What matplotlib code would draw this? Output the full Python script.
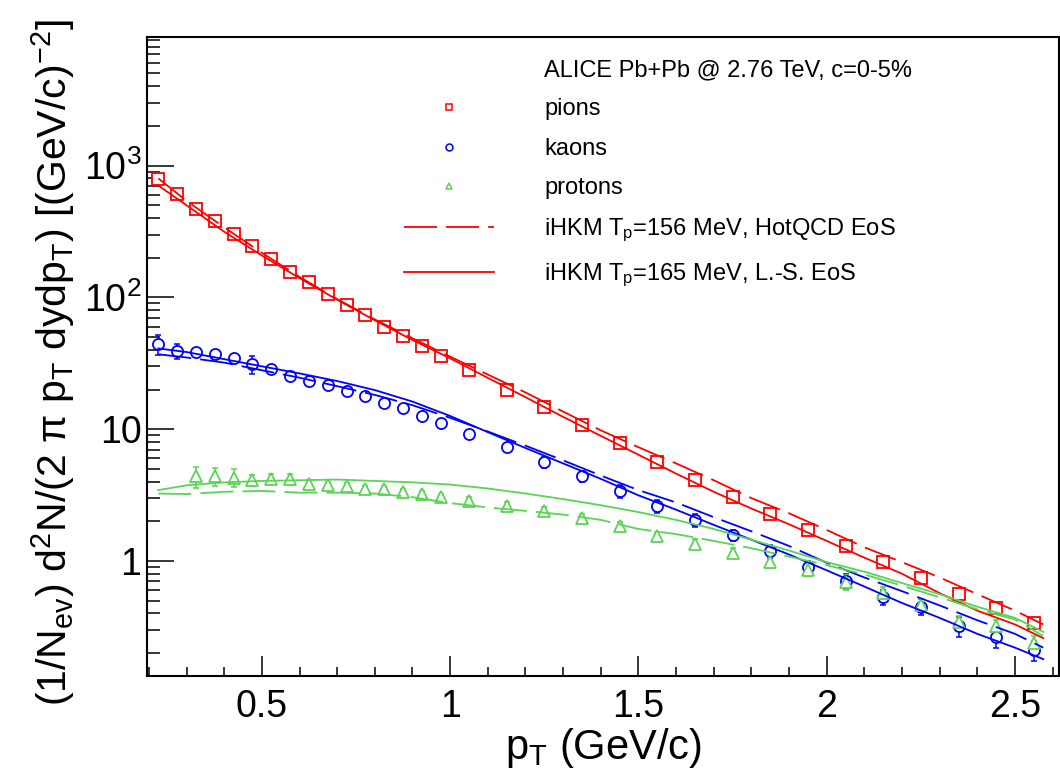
import numpy as np
import matplotlib
matplotlib.use('Agg')
import matplotlib.pyplot as plt
from matplotlib.lines import Line2D
from matplotlib.ticker import FixedLocator, FixedFormatter, MultipleLocator, LogLocator, NullFormatter

plt.rcParams['font.family'] = ['Liberation Sans', 'DejaVu Sans']
plt.rcParams['mathtext.fontset'] = 'custom'
plt.rcParams['mathtext.rm'] = 'Liberation Sans'
plt.rcParams['mathtext.it'] = 'Liberation Sans:italic'
plt.rcParams['mathtext.bf'] = 'Liberation Sans:bold'
plt.rcParams['lines.scale_dashes'] = False

# ALICE data
pt_pi = [0.225, 0.275, 0.325, 0.375, 0.425, 0.475, 0.525, 0.575, 0.625, 0.675, 0.725, 0.775,
         0.825, 0.875, 0.925, 0.975, 1.05, 1.15, 1.25, 1.35, 1.45, 1.55, 1.65, 1.75, 1.85,
         1.95, 2.05, 2.15, 2.25, 2.35, 2.45, 2.55]
pi_y = [795, 612, 470, 377, 305, 244, 194, 157, 130, 107, 88, 73, 60, 51, 43, 36, 28, 20,
        14.7, 10.7, 7.8, 5.6, 4.1, 3.06, 2.27, 1.72, 1.30, 0.98, 0.74, 0.56, 0.44, 0.34]
pi_err = [0.04] * 32

pt_ka = pt_pi
ka_y = [44, 39, 38.3, 37, 34.5, 31, 28.5, 25.2, 23.1, 21.5, 19.6, 18.0, 15.7, 14.4, 12.5, 11.1,
        9.15, 7.3, 5.6, 4.4, 3.4, 2.6, 2.04, 1.57, 1.19, 0.90, 0.70, 0.53, 0.45, 0.32, 0.265, 0.21]
ka_err = [0.17, 0.13, 0.06, 0.06, 0.08, 0.15, 0.06, 0.06, 0.06, 0.06, 0.06, 0.06, 0.06, 0.06,
          0.06, 0.06, 0.07, 0.08, 0.09, 0.10, 0.11, 0.11, 0.11, 0.10, 0.12, 0.11, 0.13, 0.13,
          0.14, 0.17, 0.17, 0.17]

pt_pr = [0.325, 0.375, 0.425, 0.475, 0.525, 0.575, 0.625, 0.675, 0.725, 0.775, 0.825, 0.875,
         0.925, 0.975, 1.05, 1.15, 1.25, 1.35, 1.45, 1.55, 1.65, 1.75, 1.85, 1.95, 2.05, 2.15,
         2.25, 2.35, 2.45, 2.55]
pr_y = [4.4, 4.4, 4.3, 4.1, 4.17, 4.17, 3.83, 3.77, 3.70, 3.51, 3.51, 3.33, 3.22, 3.05,
        2.85, 2.61, 2.39, 2.12, 1.84, 1.55, 1.35, 1.15, 0.98, 0.86, 0.69, 0.57, 0.46, 0.345, 0.32, 0.24]
pr_err = [0.18, 0.16, 0.16, 0.10, 0.10, 0.10, 0.08, 0.06, 0.06, 0.06, 0.06, 0.06, 0.06, 0.06,
          0.07, 0.07, 0.07, 0.08, 0.08, 0.08, 0.08, 0.09, 0.09, 0.10, 0.13, 0.11, 0.11, 0.11, 0.11, 0.13]

# iHKM curves
pt_model = [0.225, 0.3, 0.4, 0.5, 0.6, 0.7, 0.8, 0.9, 1.0, 1.1, 1.2, 1.3, 1.4, 1.5, 1.6, 1.7,
            1.8, 1.9, 2.0, 2.1, 2.2, 2.3, 2.4, 2.5, 2.575]
pi_ls = [706, 500, 315, 208, 140, 96, 67, 47.5, 34.5, 24.5, 17.5, 12.4, 8.9, 6.4, 4.6, 3.35,
         2.5, 1.9, 1.42, 1.06, 0.8, 0.57, 0.42, 0.33, 0.26]
pi_hq = [800, 540, 340, 218, 143, 97, 68, 49, 35.5, 26, 19, 13.6, 9.8, 7.3, 5.5, 4.1,
         3.0, 2.3, 1.72, 1.27, 0.98, 0.75, 0.56, 0.42, 0.33]
ka_ls = [41, 38.5, 34, 30, 26.5, 23.2, 19.8, 16.2, 12.6, 9.5, 7.2, 5.5, 4.2, 3.15, 2.45, 1.88,
         1.45, 1.12, 0.85, 0.64, 0.48, 0.37, 0.28, 0.22, 0.18]
ka_hq = [37, 35, 32, 28, 24.6, 21.2, 18.2, 15.2, 12.2, 9.6, 7.5, 5.8, 4.45, 3.45, 2.78, 2.15,
         1.68, 1.3, 0.97, 0.75, 0.59, 0.46, 0.355, 0.28, 0.22]
pr_ls = [3.45, 3.75, 3.95, 4.05, 4.1, 4.15, 4.05, 3.95, 3.8, 3.55, 3.25, 2.95, 2.65, 2.35, 2.05,
         1.75, 1.45, 1.2, 0.98, 0.83, 0.68, 0.56, 0.45, 0.37, 0.29]
pr_hq = [3.25, 3.22, 3.35, 3.4, 3.3, 3.3, 3.25, 3.05, 2.75, 2.55, 2.4, 2.25, 2.05, 1.75, 1.6,
         1.42, 1.25, 1.08, 0.93, 0.79, 0.65, 0.53, 0.43, 0.36, 0.27]

xtick_vals = [0.5, 1, 1.5, 2, 2.5]
xtick_labels = ['0.5', '1', '1.5', '2', '2.5']
ytick_vals = [1, 10, 100, 1000]
ytick_labels = ['1', '10', '$10^{2}$', '$10^{3}$']

red = '#ff0000'
blue = '#0000ff'
green = '#59d454'
dash = (23.8, 6.5)

fig = plt.figure(figsize=(10.6, 7.82), dpi=100)
ax = fig.add_axes([0.1387, 0.1355, 0.8604, 0.8172])

for ys_ls, ys_hq, c in [(pi_ls, pi_hq, red), (ka_ls, ka_hq, blue), (pr_ls, pr_hq, green)]:
    ax.plot(pt_model, ys_ls, color=c, lw=1.3, zorder=3)
    ax.plot(pt_model, ys_hq, color=c, lw=1.3, dashes=dash, zorder=3)

# error bars first, then white-filled markers hide the part inside the marker (as ROOT does)
for x, y, e, m, c in [(pt_pi, pi_y, pi_err, 's', red), (pt_ka, ka_y, ka_err, 'o', blue),
                      (pt_pr, pr_y, pr_err, '^', green)]:
    y = np.array(y)
    ax.errorbar(x, y, yerr=y * np.array(e), fmt='none', ecolor=c, elinewidth=1.1,
                capsize=2.5, capthick=1.1, zorder=2)
    ax.plot(x, y, ls='none', marker=m, mfc='white', mec=c, ms=8, mew=1.3, zorder=2.5)

ax.set_yscale('log')
ax.set_xlim(0.195, 2.617)
ax.set_ylim(0.134, 9460)

ax.xaxis.set_major_locator(FixedLocator(xtick_vals))
ax.xaxis.set_major_formatter(FixedFormatter(xtick_labels))
ax.xaxis.set_minor_locator(MultipleLocator(0.1))
ax.yaxis.set_major_locator(FixedLocator(ytick_vals))
ax.yaxis.set_major_formatter(FixedFormatter(ytick_labels))
ax.yaxis.set_minor_locator(LogLocator(base=10, subs=range(2, 10)))
ax.yaxis.set_minor_formatter(NullFormatter())

ax.tick_params(axis='y', which='major', direction='in', length=19.4, width=1.1, labelsize=27, pad=4)
ax.tick_params(axis='y', which='minor', direction='in', length=9.4, width=1.1)
ax.tick_params(axis='x', which='major', direction='in', length=14.4, width=1.1, labelsize=27, pad=9)
ax.tick_params(axis='x', which='minor', direction='in', length=6.5, width=1.1)
for s in ax.spines.values():
    s.set_linewidth(1.5)

ax.set_xlabel(r'p$_{\mathrm{T}}$ (GeV/c)', fontsize=30)
ax.xaxis.set_label_coords(0.5, -0.078)
ax.set_ylabel(r'(1/N$_{\mathrm{ev}}$) d$^{2}$N/(2 π p$_{\mathrm{T}}$ dydp$_{\mathrm{T}}$) [(GeV/c)$^{-2}$]',
              fontsize=29.5)
ax.yaxis.set_label_coords(-0.077, 0.49)

handles = [Line2D([], [], ls='none'),
           Line2D([], [], ls='none', marker='s', mfc='none', mec=red, ms=5, mew=1.1),
           Line2D([], [], ls='none', marker='o', mfc='none', mec=blue, ms=5, mew=1.1),
           Line2D([], [], ls='none', marker='^', mfc='none', mec=green, ms=5, mew=1.1),
           Line2D([], [], color=red, lw=1.3, dashes=dash),
           Line2D([], [], color=red, lw=1.3)]
labels = ['ALICE Pb+Pb @ 2.76 TeV, c=0-5%', 'pions', 'kaons', 'protons',
          r'iHKM T$_{\mathrm{p}}$=156 MeV, HotQCD EoS', r'iHKM T$_{\mathrm{p}}$=165 MeV, L.-S. EoS']
ax.legend(handles, labels, loc='upper left', bbox_to_anchor=(404 / 1060, 1 - 59 / 782),
          bbox_transform=fig.transFigure, frameon=False, fontsize=17, handlelength=3.8,
          handletextpad=2.15, labelspacing=0.74, borderpad=0, borderaxespad=0)

fig.savefig('out.png', dpi=100)
